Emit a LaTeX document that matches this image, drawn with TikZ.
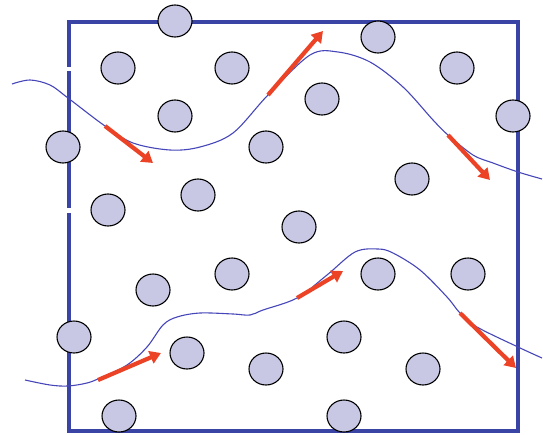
\documentclass[tikz,border=0pt]{standalone}
\usetikzlibrary{shapes.geometric,arrows.meta}
\definecolor{boxblue}{RGB}{58,68,165}
\definecolor{curveblue}{RGB}{70,70,185}
\definecolor{ballfill}{RGB}{200,200,228}
\definecolor{arrowred}{RGB}{236,66,38}
\tikzset{
  ball/.style={ellipse, draw=black, line width=1.1pt, fill=ballfill, minimum width=34pt, minimum height=32pt, inner sep=0pt},
  wall/.style={draw=boxblue, line width=3.6pt},
  path/.style={draw=curveblue, line width=1.1pt},
  vel/.style={draw=arrowred, line width=4.2pt, -{Triangle[length=11pt,width=13pt]}},
}
\begin{document}
\begin{tikzpicture}[x=1pt,y=-1pt]
\useasboundingbox (0,0) rectangle (543,434);
% container
\draw[wall] (69,22) rectangle (518,431);
\fill[white] (65,66.5) rectangle (73,71);
\fill[white] (65,208) rectangle (73,212.5);
% trajectories
\draw[path] plot[smooth, tension=0.55] coordinates {(12,84) (30,80) (50,85) (68,98) (105,126) (133,143) (170,150) (200,147) (233,133) (268,95) (310,55) (338,52) (370,62) (403,87) (433,120) (448,135) (473,155) (493,163) (518,172) (542,179)};
\draw[path] plot[smooth, tension=0.55] coordinates {(25,380) (50,385) (68,386) (87,383) (100,378) (127,365) (147,347) (163,325) (177,317) (200,313) (233,314) (250,315) (263,310) (297,298) (327,275) (355,252) (378,249) (393,253) (420,270) (447,297) (460,313) (477,327) (518,347) (542,358)};
% velocity arrows
\coordinate (a1s) at (105,126); \coordinate (a1e) at (153,163);
\coordinate (a2s) at (268,95);  \coordinate (a2e) at (323,31);
\coordinate (a3s) at (448,135); \coordinate (a3e) at (490,180);
\coordinate (b1s) at (98,380);  \coordinate (b1e) at (161,353);
\coordinate (b2s) at (297,298); \coordinate (b2e) at (343,271);
\coordinate (b3s) at (460,313); \coordinate (b3e) at (516,368);
\draw[vel] (a1s) -- (a1e);
\draw[vel] (a2s) -- (a2e);
\draw[vel] (a3s) -- (a3e);
\draw[vel] (b1s) -- (b1e);
\draw[vel] (b2s) -- (b2e);
\draw[vel] (b3s) -- (b3e);
% particles
\node[ball] (c1) at (175,21) {};
\node[ball] (c2) at (118,68) {};
\node[ball] (c3) at (232,68) {};
\node[ball] (c4) at (175,116) {};
\node[ball] (c5) at (63,147) {};
\node[ball] (c6) at (266,147) {};
\node[ball] (c7) at (198,195) {};
\node[ball] (c8) at (108,210) {};
\node[ball] (c9) at (378,37) {};
\node[ball] (c10) at (457,68) {};
\node[ball] (c11) at (322,99) {};
\node[ball] (c12) at (513,116) {};
\node[ball] (c13) at (412,179) {};
\node[ball] (c14) at (299,227) {};
\node[ball] (c15) at (153,290) {};
\node[ball] (c16) at (232,274) {};
\node[ball] (c17) at (74,337) {};
\node[ball] (c18) at (187,353) {};
\node[ball] (c19) at (266,369) {};
\node[ball] (c20) at (119,416) {};
\node[ball] (c21) at (378,274) {};
\node[ball] (c22) at (468,274) {};
\node[ball] (c23) at (344,337) {};
\node[ball] (c24) at (423,369) {};
\node[ball] (c25) at (344,416) {};
\end{tikzpicture}
\end{document}
